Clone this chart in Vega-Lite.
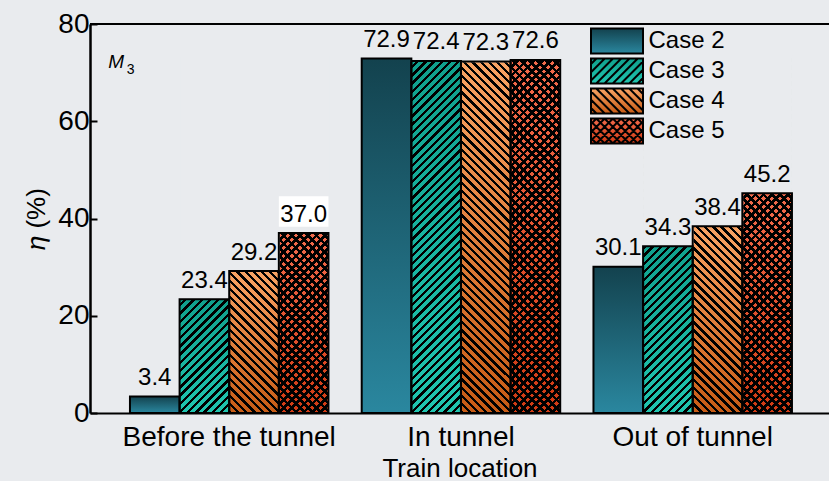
{
 "$schema": "https://vega.github.io/schema/vega-lite/v6.json",
 "width": 739,
 "height": 389,
 "autosize": {"type": "none"},
 "padding": {"left": 90, "top": 24, "right": 0, "bottom": 68},
 "background": "#e9ebee",
 "params": [
  {"name": "hA", "value": [
{"offset":0,"color":"#000"},{"offset":0.008,"color":"#000"},{"offset":0.008,"color":"#0000"},{"offset":0.02,"color":"#0000"},
{"offset":0.02,"color":"#000"},{"offset":0.028,"color":"#000"},{"offset":0.028,"color":"#0000"},{"offset":0.04,"color":"#0000"},
{"offset":0.04,"color":"#000"},{"offset":0.048,"color":"#000"},{"offset":0.048,"color":"#0000"},{"offset":0.06,"color":"#0000"},
{"offset":0.06,"color":"#000"},{"offset":0.068,"color":"#000"},{"offset":0.068,"color":"#0000"},{"offset":0.08,"color":"#0000"},
{"offset":0.08,"color":"#000"},{"offset":0.088,"color":"#000"},{"offset":0.088,"color":"#0000"},{"offset":0.1,"color":"#0000"},
{"offset":0.1,"color":"#000"},{"offset":0.108,"color":"#000"},{"offset":0.108,"color":"#0000"},{"offset":0.12,"color":"#0000"},
{"offset":0.12,"color":"#000"},{"offset":0.128,"color":"#000"},{"offset":0.128,"color":"#0000"},{"offset":0.14,"color":"#0000"},
{"offset":0.14,"color":"#000"},{"offset":0.148,"color":"#000"},{"offset":0.148,"color":"#0000"},{"offset":0.16,"color":"#0000"},
{"offset":0.16,"color":"#000"},{"offset":0.168,"color":"#000"},{"offset":0.168,"color":"#0000"},{"offset":0.18,"color":"#0000"},
{"offset":0.18,"color":"#000"},{"offset":0.188,"color":"#000"},{"offset":0.188,"color":"#0000"},{"offset":0.2,"color":"#0000"},
{"offset":0.2,"color":"#000"},{"offset":0.208,"color":"#000"},{"offset":0.208,"color":"#0000"},{"offset":0.22,"color":"#0000"},
{"offset":0.22,"color":"#000"},{"offset":0.228,"color":"#000"},{"offset":0.228,"color":"#0000"},{"offset":0.24,"color":"#0000"},
{"offset":0.24,"color":"#000"},{"offset":0.248,"color":"#000"},{"offset":0.248,"color":"#0000"},{"offset":0.26,"color":"#0000"},
{"offset":0.26,"color":"#000"},{"offset":0.268,"color":"#000"},{"offset":0.268,"color":"#0000"},{"offset":0.28,"color":"#0000"},
{"offset":0.28,"color":"#000"},{"offset":0.288,"color":"#000"},{"offset":0.288,"color":"#0000"},{"offset":0.3,"color":"#0000"},
{"offset":0.3,"color":"#000"},{"offset":0.308,"color":"#000"},{"offset":0.308,"color":"#0000"},{"offset":0.32,"color":"#0000"},
{"offset":0.32,"color":"#000"},{"offset":0.328,"color":"#000"},{"offset":0.328,"color":"#0000"},{"offset":0.34,"color":"#0000"},
{"offset":0.34,"color":"#000"},{"offset":0.348,"color":"#000"},{"offset":0.348,"color":"#0000"},{"offset":0.36,"color":"#0000"},
{"offset":0.36,"color":"#000"},{"offset":0.368,"color":"#000"},{"offset":0.368,"color":"#0000"},{"offset":0.38,"color":"#0000"},
{"offset":0.38,"color":"#000"},{"offset":0.388,"color":"#000"},{"offset":0.388,"color":"#0000"},{"offset":0.4,"color":"#0000"},
{"offset":0.4,"color":"#000"},{"offset":0.408,"color":"#000"},{"offset":0.408,"color":"#0000"},{"offset":0.42,"color":"#0000"},
{"offset":0.42,"color":"#000"},{"offset":0.428,"color":"#000"},{"offset":0.428,"color":"#0000"},{"offset":0.44,"color":"#0000"},
{"offset":0.44,"color":"#000"},{"offset":0.448,"color":"#000"},{"offset":0.448,"color":"#0000"},{"offset":0.46,"color":"#0000"},
{"offset":0.46,"color":"#000"},{"offset":0.468,"color":"#000"},{"offset":0.468,"color":"#0000"},{"offset":0.48,"color":"#0000"},
{"offset":0.48,"color":"#000"},{"offset":0.488,"color":"#000"},{"offset":0.488,"color":"#0000"},{"offset":0.5,"color":"#0000"},
{"offset":0.5,"color":"#000"},{"offset":0.508,"color":"#000"},{"offset":0.508,"color":"#0000"},{"offset":0.52,"color":"#0000"},
{"offset":0.52,"color":"#000"},{"offset":0.528,"color":"#000"},{"offset":0.528,"color":"#0000"},{"offset":0.54,"color":"#0000"},
{"offset":0.54,"color":"#000"},{"offset":0.548,"color":"#000"},{"offset":0.548,"color":"#0000"},{"offset":0.56,"color":"#0000"},
{"offset":0.56,"color":"#000"},{"offset":0.568,"color":"#000"},{"offset":0.568,"color":"#0000"},{"offset":0.58,"color":"#0000"},
{"offset":0.58,"color":"#000"},{"offset":0.588,"color":"#000"},{"offset":0.588,"color":"#0000"},{"offset":0.6,"color":"#0000"},
{"offset":0.6,"color":"#000"},{"offset":0.608,"color":"#000"},{"offset":0.608,"color":"#0000"},{"offset":0.62,"color":"#0000"},
{"offset":0.62,"color":"#000"},{"offset":0.628,"color":"#000"},{"offset":0.628,"color":"#0000"},{"offset":0.64,"color":"#0000"},
{"offset":0.64,"color":"#000"},{"offset":0.648,"color":"#000"},{"offset":0.648,"color":"#0000"},{"offset":0.66,"color":"#0000"},
{"offset":0.66,"color":"#000"},{"offset":0.668,"color":"#000"},{"offset":0.668,"color":"#0000"},{"offset":0.68,"color":"#0000"},
{"offset":0.68,"color":"#000"},{"offset":0.688,"color":"#000"},{"offset":0.688,"color":"#0000"},{"offset":0.7,"color":"#0000"},
{"offset":0.7,"color":"#000"},{"offset":0.708,"color":"#000"},{"offset":0.708,"color":"#0000"},{"offset":0.72,"color":"#0000"},
{"offset":0.72,"color":"#000"},{"offset":0.728,"color":"#000"},{"offset":0.728,"color":"#0000"},{"offset":0.74,"color":"#0000"},
{"offset":0.74,"color":"#000"},{"offset":0.748,"color":"#000"},{"offset":0.748,"color":"#0000"},{"offset":0.76,"color":"#0000"},
{"offset":0.76,"color":"#000"},{"offset":0.768,"color":"#000"},{"offset":0.768,"color":"#0000"},{"offset":0.78,"color":"#0000"},
{"offset":0.78,"color":"#000"},{"offset":0.788,"color":"#000"},{"offset":0.788,"color":"#0000"},{"offset":0.8,"color":"#0000"},
{"offset":0.8,"color":"#000"},{"offset":0.808,"color":"#000"},{"offset":0.808,"color":"#0000"},{"offset":0.82,"color":"#0000"},
{"offset":0.82,"color":"#000"},{"offset":0.828,"color":"#000"},{"offset":0.828,"color":"#0000"},{"offset":0.84,"color":"#0000"},
{"offset":0.84,"color":"#000"},{"offset":0.848,"color":"#000"},{"offset":0.848,"color":"#0000"},{"offset":0.86,"color":"#0000"},
{"offset":0.86,"color":"#000"},{"offset":0.868,"color":"#000"},{"offset":0.868,"color":"#0000"},{"offset":0.88,"color":"#0000"},
{"offset":0.88,"color":"#000"},{"offset":0.888,"color":"#000"},{"offset":0.888,"color":"#0000"},{"offset":0.9,"color":"#0000"},
{"offset":0.9,"color":"#000"},{"offset":0.908,"color":"#000"},{"offset":0.908,"color":"#0000"},{"offset":0.92,"color":"#0000"},
{"offset":0.92,"color":"#000"},{"offset":0.928,"color":"#000"},{"offset":0.928,"color":"#0000"},{"offset":0.94,"color":"#0000"},
{"offset":0.94,"color":"#000"},{"offset":0.948,"color":"#000"},{"offset":0.948,"color":"#0000"},{"offset":0.96,"color":"#0000"},
{"offset":0.96,"color":"#000"},{"offset":0.968,"color":"#000"},{"offset":0.968,"color":"#0000"},{"offset":0.98,"color":"#0000"},
{"offset":0.98,"color":"#000"},{"offset":0.988,"color":"#000"},{"offset":0.988,"color":"#0000"},{"offset":1,"color":"#0000"}
  ]},
  {"name": "hB", "value": [
{"offset":0,"color":"#000"},{"offset":0.009,"color":"#000"},{"offset":0.009,"color":"#0000"},{"offset":0.02,"color":"#0000"},
{"offset":0.02,"color":"#000"},{"offset":0.029,"color":"#000"},{"offset":0.029,"color":"#0000"},{"offset":0.04,"color":"#0000"},
{"offset":0.04,"color":"#000"},{"offset":0.049,"color":"#000"},{"offset":0.049,"color":"#0000"},{"offset":0.06,"color":"#0000"},
{"offset":0.06,"color":"#000"},{"offset":0.069,"color":"#000"},{"offset":0.069,"color":"#0000"},{"offset":0.08,"color":"#0000"},
{"offset":0.08,"color":"#000"},{"offset":0.089,"color":"#000"},{"offset":0.089,"color":"#0000"},{"offset":0.1,"color":"#0000"},
{"offset":0.1,"color":"#000"},{"offset":0.109,"color":"#000"},{"offset":0.109,"color":"#0000"},{"offset":0.12,"color":"#0000"},
{"offset":0.12,"color":"#000"},{"offset":0.129,"color":"#000"},{"offset":0.129,"color":"#0000"},{"offset":0.14,"color":"#0000"},
{"offset":0.14,"color":"#000"},{"offset":0.149,"color":"#000"},{"offset":0.149,"color":"#0000"},{"offset":0.16,"color":"#0000"},
{"offset":0.16,"color":"#000"},{"offset":0.169,"color":"#000"},{"offset":0.169,"color":"#0000"},{"offset":0.18,"color":"#0000"},
{"offset":0.18,"color":"#000"},{"offset":0.189,"color":"#000"},{"offset":0.189,"color":"#0000"},{"offset":0.2,"color":"#0000"},
{"offset":0.2,"color":"#000"},{"offset":0.209,"color":"#000"},{"offset":0.209,"color":"#0000"},{"offset":0.22,"color":"#0000"},
{"offset":0.22,"color":"#000"},{"offset":0.229,"color":"#000"},{"offset":0.229,"color":"#0000"},{"offset":0.24,"color":"#0000"},
{"offset":0.24,"color":"#000"},{"offset":0.249,"color":"#000"},{"offset":0.249,"color":"#0000"},{"offset":0.26,"color":"#0000"},
{"offset":0.26,"color":"#000"},{"offset":0.269,"color":"#000"},{"offset":0.269,"color":"#0000"},{"offset":0.28,"color":"#0000"},
{"offset":0.28,"color":"#000"},{"offset":0.289,"color":"#000"},{"offset":0.289,"color":"#0000"},{"offset":0.3,"color":"#0000"},
{"offset":0.3,"color":"#000"},{"offset":0.309,"color":"#000"},{"offset":0.309,"color":"#0000"},{"offset":0.32,"color":"#0000"},
{"offset":0.32,"color":"#000"},{"offset":0.329,"color":"#000"},{"offset":0.329,"color":"#0000"},{"offset":0.34,"color":"#0000"},
{"offset":0.34,"color":"#000"},{"offset":0.349,"color":"#000"},{"offset":0.349,"color":"#0000"},{"offset":0.36,"color":"#0000"},
{"offset":0.36,"color":"#000"},{"offset":0.369,"color":"#000"},{"offset":0.369,"color":"#0000"},{"offset":0.38,"color":"#0000"},
{"offset":0.38,"color":"#000"},{"offset":0.389,"color":"#000"},{"offset":0.389,"color":"#0000"},{"offset":0.4,"color":"#0000"},
{"offset":0.4,"color":"#000"},{"offset":0.409,"color":"#000"},{"offset":0.409,"color":"#0000"},{"offset":0.42,"color":"#0000"},
{"offset":0.42,"color":"#000"},{"offset":0.429,"color":"#000"},{"offset":0.429,"color":"#0000"},{"offset":0.44,"color":"#0000"},
{"offset":0.44,"color":"#000"},{"offset":0.449,"color":"#000"},{"offset":0.449,"color":"#0000"},{"offset":0.46,"color":"#0000"},
{"offset":0.46,"color":"#000"},{"offset":0.469,"color":"#000"},{"offset":0.469,"color":"#0000"},{"offset":0.48,"color":"#0000"},
{"offset":0.48,"color":"#000"},{"offset":0.489,"color":"#000"},{"offset":0.489,"color":"#0000"},{"offset":0.5,"color":"#0000"},
{"offset":0.5,"color":"#000"},{"offset":0.509,"color":"#000"},{"offset":0.509,"color":"#0000"},{"offset":0.52,"color":"#0000"},
{"offset":0.52,"color":"#000"},{"offset":0.529,"color":"#000"},{"offset":0.529,"color":"#0000"},{"offset":0.54,"color":"#0000"},
{"offset":0.54,"color":"#000"},{"offset":0.549,"color":"#000"},{"offset":0.549,"color":"#0000"},{"offset":0.56,"color":"#0000"},
{"offset":0.56,"color":"#000"},{"offset":0.569,"color":"#000"},{"offset":0.569,"color":"#0000"},{"offset":0.58,"color":"#0000"},
{"offset":0.58,"color":"#000"},{"offset":0.589,"color":"#000"},{"offset":0.589,"color":"#0000"},{"offset":0.6,"color":"#0000"},
{"offset":0.6,"color":"#000"},{"offset":0.609,"color":"#000"},{"offset":0.609,"color":"#0000"},{"offset":0.62,"color":"#0000"},
{"offset":0.62,"color":"#000"},{"offset":0.629,"color":"#000"},{"offset":0.629,"color":"#0000"},{"offset":0.64,"color":"#0000"},
{"offset":0.64,"color":"#000"},{"offset":0.649,"color":"#000"},{"offset":0.649,"color":"#0000"},{"offset":0.66,"color":"#0000"},
{"offset":0.66,"color":"#000"},{"offset":0.669,"color":"#000"},{"offset":0.669,"color":"#0000"},{"offset":0.68,"color":"#0000"},
{"offset":0.68,"color":"#000"},{"offset":0.689,"color":"#000"},{"offset":0.689,"color":"#0000"},{"offset":0.7,"color":"#0000"},
{"offset":0.7,"color":"#000"},{"offset":0.709,"color":"#000"},{"offset":0.709,"color":"#0000"},{"offset":0.72,"color":"#0000"},
{"offset":0.72,"color":"#000"},{"offset":0.729,"color":"#000"},{"offset":0.729,"color":"#0000"},{"offset":0.74,"color":"#0000"},
{"offset":0.74,"color":"#000"},{"offset":0.749,"color":"#000"},{"offset":0.749,"color":"#0000"},{"offset":0.76,"color":"#0000"},
{"offset":0.76,"color":"#000"},{"offset":0.769,"color":"#000"},{"offset":0.769,"color":"#0000"},{"offset":0.78,"color":"#0000"},
{"offset":0.78,"color":"#000"},{"offset":0.789,"color":"#000"},{"offset":0.789,"color":"#0000"},{"offset":0.8,"color":"#0000"},
{"offset":0.8,"color":"#000"},{"offset":0.809,"color":"#000"},{"offset":0.809,"color":"#0000"},{"offset":0.82,"color":"#0000"},
{"offset":0.82,"color":"#000"},{"offset":0.829,"color":"#000"},{"offset":0.829,"color":"#0000"},{"offset":0.84,"color":"#0000"},
{"offset":0.84,"color":"#000"},{"offset":0.849,"color":"#000"},{"offset":0.849,"color":"#0000"},{"offset":0.86,"color":"#0000"},
{"offset":0.86,"color":"#000"},{"offset":0.869,"color":"#000"},{"offset":0.869,"color":"#0000"},{"offset":0.88,"color":"#0000"},
{"offset":0.88,"color":"#000"},{"offset":0.889,"color":"#000"},{"offset":0.889,"color":"#0000"},{"offset":0.9,"color":"#0000"},
{"offset":0.9,"color":"#000"},{"offset":0.909,"color":"#000"},{"offset":0.909,"color":"#0000"},{"offset":0.92,"color":"#0000"},
{"offset":0.92,"color":"#000"},{"offset":0.929,"color":"#000"},{"offset":0.929,"color":"#0000"},{"offset":0.94,"color":"#0000"},
{"offset":0.94,"color":"#000"},{"offset":0.949,"color":"#000"},{"offset":0.949,"color":"#0000"},{"offset":0.96,"color":"#0000"},
{"offset":0.96,"color":"#000"},{"offset":0.969,"color":"#000"},{"offset":0.969,"color":"#0000"},{"offset":0.98,"color":"#0000"},
{"offset":0.98,"color":"#000"},{"offset":0.989,"color":"#000"},{"offset":0.989,"color":"#0000"},{"offset":1,"color":"#0000"}
  ]}
 ],
 "data": {"values": [
  {"loc": "Before the tunnel", "case": "Case 2", "v": 3.4},
  {"loc": "Before the tunnel", "case": "Case 3", "v": 23.4},
  {"loc": "Before the tunnel", "case": "Case 4", "v": 29.2},
  {"loc": "Before the tunnel", "case": "Case 5", "v": 37.0},
  {"loc": "In tunnel", "case": "Case 2", "v": 72.9},
  {"loc": "In tunnel", "case": "Case 3", "v": 72.4},
  {"loc": "In tunnel", "case": "Case 4", "v": 72.3},
  {"loc": "In tunnel", "case": "Case 5", "v": 72.6},
  {"loc": "Out of tunnel", "case": "Case 2", "v": 30.1},
  {"loc": "Out of tunnel", "case": "Case 3", "v": 34.3},
  {"loc": "Out of tunnel", "case": "Case 4", "v": 38.4},
  {"loc": "Out of tunnel", "case": "Case 5", "v": 45.2}
 ]},
 "config": {
  "view": {"stroke": null},
  "font": "Liberation Sans",
  "axis": {"grid": false, "labelColor": "#000", "titleColor": "#000", "domainColor": "#000", "tickColor": "#000", "titleFontWeight": "normal"}
 },
 "layer": [
  {
   "data": {"values": [{}]},
   "mark": {"type": "rule", "color": "#000", "strokeWidth": 2},
   "encoding": {"y": {"datum": 80, "type": "quantitative"}}
  },
  {
   "encoding": {
    "x": {"field": "loc", "type": "nominal",
     "scale": {"domain": ["Before the tunnel", "In tunnel", "Out of tunnel"], "paddingInner": 0.1435, "paddingOuter": 0.16615, "align": 0.519},
     "axis": {"title": "Train location", "labelAngle": 0, "ticks": false, "tickSize": 0, "domainWidth": 2, "labelFontSize": 28, "labelLimit": 0, "labelPadding": 10, "titleFontSize": 26, "titlePadding": 4}},
    "xOffset": {"field": "case", "type": "nominal", "scale": {"domain": ["Case 2", "Case 3", "Case 4", "Case 5"], "paddingInner": 0, "paddingOuter": 0}},
    "y": {"field": "v", "type": "quantitative", "stack": null,
     "scale": {"domain": [0, 80], "nice": false},
     "axis": {"title": "𝜂 (%)", "values": [0, 20, 40, 60, 80], "tickSize": -7, "tickWidth": 2, "domainWidth": 2.5, "labelFontSize": 28, "labelPadding": 8, "titleFontSize": 26, "titlePadding": 8}}
   },
   "layer": [
    {
     "mark": {"type": "point", "filled": false, "size": 0, "strokeWidth": 2,
      "fill": {"expr": "{gradient: 'linear', x1: 0.5, y1: 0, x2: 0.5, y2: 1, stops: (datum.case || datum.value) === 'Case 2' ? [{offset: 0, color: '#13424e'}, {offset: 1, color: '#2a879f'}] : (datum.case || datum.value) === 'Case 3' ? [{offset: 0, color: '#10a08d'}, {offset: 1, color: '#20c5b0'}] : (datum.case || datum.value) === 'Case 4' ? [{offset: 0, color: '#f8a364'}, {offset: 1, color: '#c75b15'}] : [{offset: 0, color: '#f16b4c'}, {offset: 1, color: '#d03a13'}]}"}},
     "encoding": {
      "shape": {"field": "case", "type": "nominal",
       "scale": {"domain": ["Case 2", "Case 3", "Case 4", "Case 5"], "range": [
        "M-2.08,-1H2.08V1H-2.08Z",
        "M-2.08,-1H2.08V1H-2.08Z M-2.08,-0.56L-1.64,-1M-2.08,0.1L-0.98,-1M-2.08,0.76L-0.32,-1M-1.66,1L0.34,-1M-1,1L1,-1M-0.34,1L1.66,-1M0.32,1L2.08,-0.76M0.98,1L2.08,-0.1M1.64,1L2.08,0.56",
        "M-2.08,-1H2.08V1H-2.08Z M-2.08,0.56L-1.64,1M-2.08,-0.1L-0.98,1M-2.08,-0.76L-0.32,1M-1.66,-1L0.34,1M-1,-1L1,1M-0.34,-1L1.66,1M0.32,-1L2.08,0.76M0.98,-1L2.08,0.1M1.64,-1L2.08,-0.56",
        "M-2.08,-1H2.08V1H-2.08Z M-2.08,-0.56L-1.64,-1M-2.08,0.1L-0.98,-1M-2.08,0.76L-0.32,-1M-1.66,1L0.34,-1M-1,1L1,-1M-0.34,1L1.66,-1M0.32,1L2.08,-0.76M0.98,1L2.08,-0.1M1.64,1L2.08,0.56M-2.08,0.56L-1.64,1M-2.08,-0.1L-0.98,1M-2.08,-0.76L-0.32,1M-1.66,-1L0.34,1M-1,-1L1,1M-0.34,-1L1.66,1M0.32,-1L2.08,0.76M0.98,-1L2.08,0.1M1.64,-1L2.08,-0.56"
       ]},
       "legend": {
        "title": null, "orient": "none", "legendX": 513.5, "legendY": 3.5, "padding": 0, "zindex": 1,
        "symbolSize": 625, "symbolOpacity": 1, "symbolStrokeColor": "#000", "symbolStrokeWidth": 2,
        "labelFontSize": 24, "labelColor": "#000", "labelOffset": 18, "rowPadding": -3
       }
      },
      "stroke": {"field": "case", "type": "nominal",
       "scale": {"domain": ["Case 2", "Case 3", "Case 4", "Case 5"], "range": ["#000000", "#000000", "#000000", "#000000"]},
       "legend": {
        "title": null, "orient": "none", "legendX": 513.5, "legendY": 3.5, "padding": 0, "zindex": 1,
        "symbolSize": 625, "symbolOpacity": 1, "symbolStrokeColor": "#000", "symbolStrokeWidth": 2,
        "labelFontSize": 24, "labelColor": "#000", "labelOffset": 18, "rowPadding": -3
       }
      }
     }
    },
    {"transform": [{"filter": "datum.case === 'Case 2'"}],
     "mark": {"type": "bar", "fill": {"gradient": "linear", "x1": 0.5, "y1": 0, "x2": 0.5, "y2": 1, "stops": [{"offset": 0, "color": "#13424e"}, {"offset": 1, "color": "#2a879f"}]}}},
    {"transform": [{"filter": "datum.case === 'Case 3'"}],
     "mark": {"type": "bar", "fill": {"gradient": "linear", "x1": 0.5, "y1": 0, "x2": 0.5, "y2": 1, "stops": [{"offset": 0, "color": "#10a08d"}, {"offset": 1, "color": "#20c5b0"}]}}},
    {"transform": [{"filter": "datum.case === 'Case 4'"}],
     "mark": {"type": "bar", "fill": {"gradient": "linear", "x1": 0.5, "y1": 0, "x2": 0.5, "y2": 1, "stops": [{"offset": 0, "color": "#f8a364"}, {"offset": 1, "color": "#c75b15"}]}}},
    {"transform": [{"filter": "datum.case === 'Case 5'"}],
     "mark": {"type": "bar", "fill": {"gradient": "linear", "x1": 0.5, "y1": 0, "x2": 0.5, "y2": 1, "stops": [{"offset": 0, "color": "#f16b4c"}, {"offset": 1, "color": "#d03a13"}]}}},
    {"transform": [{"filter": "datum.case === 'Case 3'"}],
     "mark": {"type": "bar", "fill": {"expr": "{gradient: 'linear', x1: 0, y1: 0, x2: 0.1584, y2: 1.1333, stops: hA}"}},
     "encoding": {"y": {"datum": 73, "type": "quantitative"}, "y2": {"datum": 0}}},
    {"transform": [{"filter": "datum.case === 'Case 4'"}],
     "mark": {"type": "bar", "fill": {"expr": "{gradient: 'linear', x1: 0, y1: 1, x2: 0.1584, y2: -0.1333, stops: hA}"}},
     "encoding": {"y": {"datum": 73, "type": "quantitative"}, "y2": {"datum": 0}}},
    {"transform": [{"filter": "datum.case === 'Case 5'"}],
     "mark": {"type": "bar", "fill": {"expr": "{gradient: 'linear', x1: 0, y1: 0, x2: 0.1584, y2: 1.1333, stops: hB}"}},
     "encoding": {"y": {"datum": 73, "type": "quantitative"}, "y2": {"datum": 0}}},
    {"transform": [{"filter": "datum.case === 'Case 5'"}],
     "mark": {"type": "bar", "fill": {"expr": "{gradient: 'linear', x1: 0, y1: 1, x2: 0.1584, y2: -0.1333, stops: hB}"}},
     "encoding": {"y": {"datum": 73, "type": "quantitative"}, "y2": {"datum": 0}}},
    {"transform": [{"filter": "datum.case !== 'Case 2'"}],
     "mark": {"type": "bar", "fill": "#e9ebee", "stroke": "#e9ebee", "strokeWidth": 1.6},
     "encoding": {"y2": {"datum": 73.3}}},
    {"mark": {"type": "bar", "fillOpacity": 0, "stroke": "#000", "strokeWidth": 2}},
    {"transform": [{"filter": "datum.loc === 'Before the tunnel' && datum.case === 'Case 5'"}],
     "mark": {"type": "bar", "fill": "#ffffff"},
     "encoding": {"y": {"datum": 38.3, "type": "quantitative"}, "y2": {"datum": 44.6}}},
    {"mark": {"type": "text", "fontSize": 24, "baseline": "alphabetic", "dy": -11.5, "color": "#000"},
     "encoding": {"text": {"field": "v", "type": "quantitative", "format": ".1f"}}},
    {"transform": [{"filter": "datum.loc === 'Before the tunnel' && datum.case === 'Case 2'"}],
     "mark": {"type": "text", "text": "M", "fontStyle": "italic", "fontSize": 19, "align": "left", "baseline": "alphabetic", "dx": -46.5, "color": "#000"},
     "encoding": {"y": {"datum": 71, "type": "quantitative"}}},
    {"transform": [{"filter": "datum.loc === 'Before the tunnel' && datum.case === 'Case 2'"}],
     "mark": {"type": "text", "text": "3", "fontSize": 14, "align": "left", "baseline": "alphabetic", "dx": -28, "dy": 6.5, "color": "#000"},
     "encoding": {"y": {"datum": 71, "type": "quantitative"}}}
   ]
  }
 ]
}
